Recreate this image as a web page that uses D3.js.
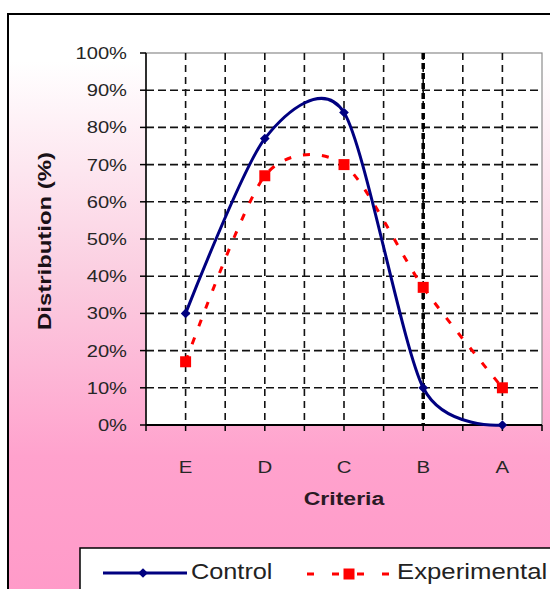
<!DOCTYPE html>
<html><head><meta charset="utf-8">
<script src="https://cdn.jsdelivr.net/npm/d3@7"></script>
<style>html,body{margin:0;padding:0;background:#fff;}svg{display:block;}</style>
</head><body>
<svg id="c" width="550" height="589"></svg>
<script>
const categories = ["E", "D", "C", "B", "A"];
const controlValues = [0.30, 0.77, 0.84, 0.10, 0.00];
const experimentalValues = [0.17, 0.67, 0.70, 0.37, 0.10];
const yTickValues = [0, 0.1, 0.2, 0.3, 0.4, 0.5, 0.6, 0.7, 0.8, 0.9, 1.0];
const seriesNames = ["Control", "Experimental"];
const highlightCategory = "B";
const xTitle = "Criteria";
const yTitle = "Distribution (%)";

const svg = d3.select("#c");
const font = "Arial, 'Liberation Sans', sans-serif";

// background gradient
const defs = svg.append("defs");
const grad = defs.append("linearGradient").attr("id", "bg").attr("x1", 0).attr("y1", 0).attr("x2", 0).attr("y2", 1);
[[0, "#ffffff"], [0.08, "#ffffff"], [0.45, "#fbcde0"], [0.75, "#ffa2cd"], [1, "#ff9ac8"]]
  .forEach(([o, c]) => grad.append("stop").attr("offset", o).attr("stop-color", c));
svg.append("rect").attr("x", 8).attr("y", 14).attr("width", 560).attr("height", 590)
  .attr("fill", "url(#bg)").attr("stroke", "#000").attr("stroke-width", 2);

const L = 146, R = 542, T = 53, B = 425;
const x = d3.scalePoint().domain(categories).range([L, R]).padding(0.5);
const half = x.step() / 2;
const y = d3.scaleLinear().domain([0, 1]).range([B, T]);

// plot area
svg.append("rect").attr("x", L).attr("y", T).attr("width", R - L).attr("height", B - T)
  .attr("fill", "#fff").attr("stroke", "#8c8c8c").attr("stroke-width", 1.2);

// horizontal gridlines
const gy = yTickValues.filter(v => v > 0 && v < 1);
svg.append("g").selectAll("line").data(gy).join("line")
  .attr("x1", L).attr("x2", R).attr("y1", d => y(d)).attr("y2", d => y(d))
  .attr("stroke", "#111").attr("stroke-width", 1.6).attr("stroke-dasharray", "8,4");

// vertical gridlines at categories and midpoints
const vlines = [];
for (let i = 1; i < categories.length * 2; i++) vlines.push(L + i * half);
svg.append("g").selectAll("line").data(vlines).join("line")
  .attr("x1", d => d).attr("x2", d => d).attr("y1", T).attr("y2", B)
  .attr("stroke", "#111").attr("stroke-width", 1.6).attr("stroke-dasharray", "7,5");
svg.append("line").attr("x1", x(highlightCategory)).attr("x2", x(highlightCategory))
  .attr("y1", T).attr("y2", B).attr("stroke", "#000").attr("stroke-width", 3.5)
  .attr("stroke-dasharray", "6,4");

// axes lines
svg.append("line").attr("x1", L).attr("x2", L).attr("y1", T).attr("y2", B).attr("stroke", "#000").attr("stroke-width", 1.5);
svg.append("line").attr("x1", L).attr("x2", R).attr("y1", B).attr("y2", B).attr("stroke", "#000").attr("stroke-width", 1.8);

// y ticks and labels
svg.append("g").selectAll("line").data(yTickValues).join("line")
  .attr("x1", L - 6).attr("x2", L).attr("y1", d => y(d)).attr("y2", d => y(d))
  .attr("stroke", "#000").attr("stroke-width", 1.5);
svg.append("g").selectAll("text").data(yTickValues).join("text")
  .attr("transform", d => `translate(127,${y(d) + 6}) scale(1.22,1)`)
  .attr("text-anchor", "end").attr("font-family", font).attr("font-size", 16.5)
  .attr("fill", "#262626").text(d => d3.format(".0%")(d));

// x ticks and labels
const xt = [];
for (let i = 0; i <= categories.length * 2; i++) xt.push(L + i * half);
svg.append("g").selectAll("line").data(xt).join("line")
  .attr("x1", d => d).attr("x2", d => d).attr("y1", B).attr("y2", B + 6)
  .attr("stroke", "#000").attr("stroke-width", 1.5);
svg.append("g").selectAll("text").data(categories).join("text")
  .attr("transform", d => `translate(${x(d)},473) scale(1.2,1)`)
  .attr("text-anchor", "middle").attr("font-family", font).attr("font-size", 17)
  .attr("fill", "#262626").text(d => d);

// titles
svg.append("text").attr("transform", "translate(344,505) scale(1.28,1)")
  .attr("text-anchor", "middle").attr("font-family", font).attr("font-size", 18)
  .attr("font-weight", "bold").attr("fill", "#2a1a24").text(xTitle);
svg.append("text").attr("transform", "translate(51,241) rotate(-90)")
  .attr("text-anchor", "middle").attr("font-family", font).attr("font-size", 18)
  .attr("font-weight", "bold").attr("fill", "#1a1016")
  .attr("textLength", 178).attr("lengthAdjust", "spacingAndGlyphs").text(yTitle);

// lines
const line = d3.line().x((d, i) => x(categories[i])).y(d => y(d)).curve(d3.curveCardinal.tension(0.2));
svg.append("path").datum(experimentalValues).attr("d", line).attr("fill", "none")
  .attr("stroke", "#ff0000").attr("stroke-width", 3).attr("stroke-dasharray", "7,12");
svg.append("path").datum(controlValues).attr("d", line).attr("fill", "none")
  .attr("stroke", "#000080").attr("stroke-width", 3);

const diamond = d3.symbol().type(d3.symbolDiamond2 || d3.symbolDiamond).size(60);
const square = d3.symbol().type(d3.symbolSquare).size(121);
svg.append("g").selectAll("path").data(experimentalValues).join("path")
  .attr("transform", (d, i) => `translate(${x(categories[i])},${y(d)})`)
  .attr("d", square).attr("fill", "#ff0000");
svg.append("g").selectAll("path").data(controlValues).join("path")
  .attr("transform", (d, i) => `translate(${x(categories[i])},${y(d)})`)
  .attr("d", diamond).attr("fill", "#000080");

// legend
svg.append("rect").attr("x", 80).attr("y", 548).attr("width", 500).attr("height", 60)
  .attr("fill", "#fff").attr("stroke", "#000").attr("stroke-width", 1.5);
svg.append("line").attr("x1", 103).attr("x2", 187).attr("y1", 573).attr("y2", 573)
  .attr("stroke", "#000080").attr("stroke-width", 3);
svg.append("path").attr("transform", "translate(143,573)").attr("d", diamond).attr("fill", "#000080");
svg.append("text").attr("transform", "translate(191,579) scale(1.15,1)")
  .attr("font-family", font).attr("font-size", 22).attr("fill", "#222").text(seriesNames[0]);
svg.append("line").attr("x1", 307).attr("x2", 390).attr("y1", 574).attr("y2", 574)
  .attr("stroke", "#ff0000").attr("stroke-width", 3).attr("stroke-dasharray", "7,18");
svg.append("path").attr("transform", "translate(349,574)").attr("d", square).attr("fill", "#ff0000");
svg.append("text").attr("transform", "translate(397,579) scale(1.17,1)")
  .attr("font-family", font).attr("font-size", 22).attr("fill", "#222").text(seriesNames[1]);
</script>
</body></html>
